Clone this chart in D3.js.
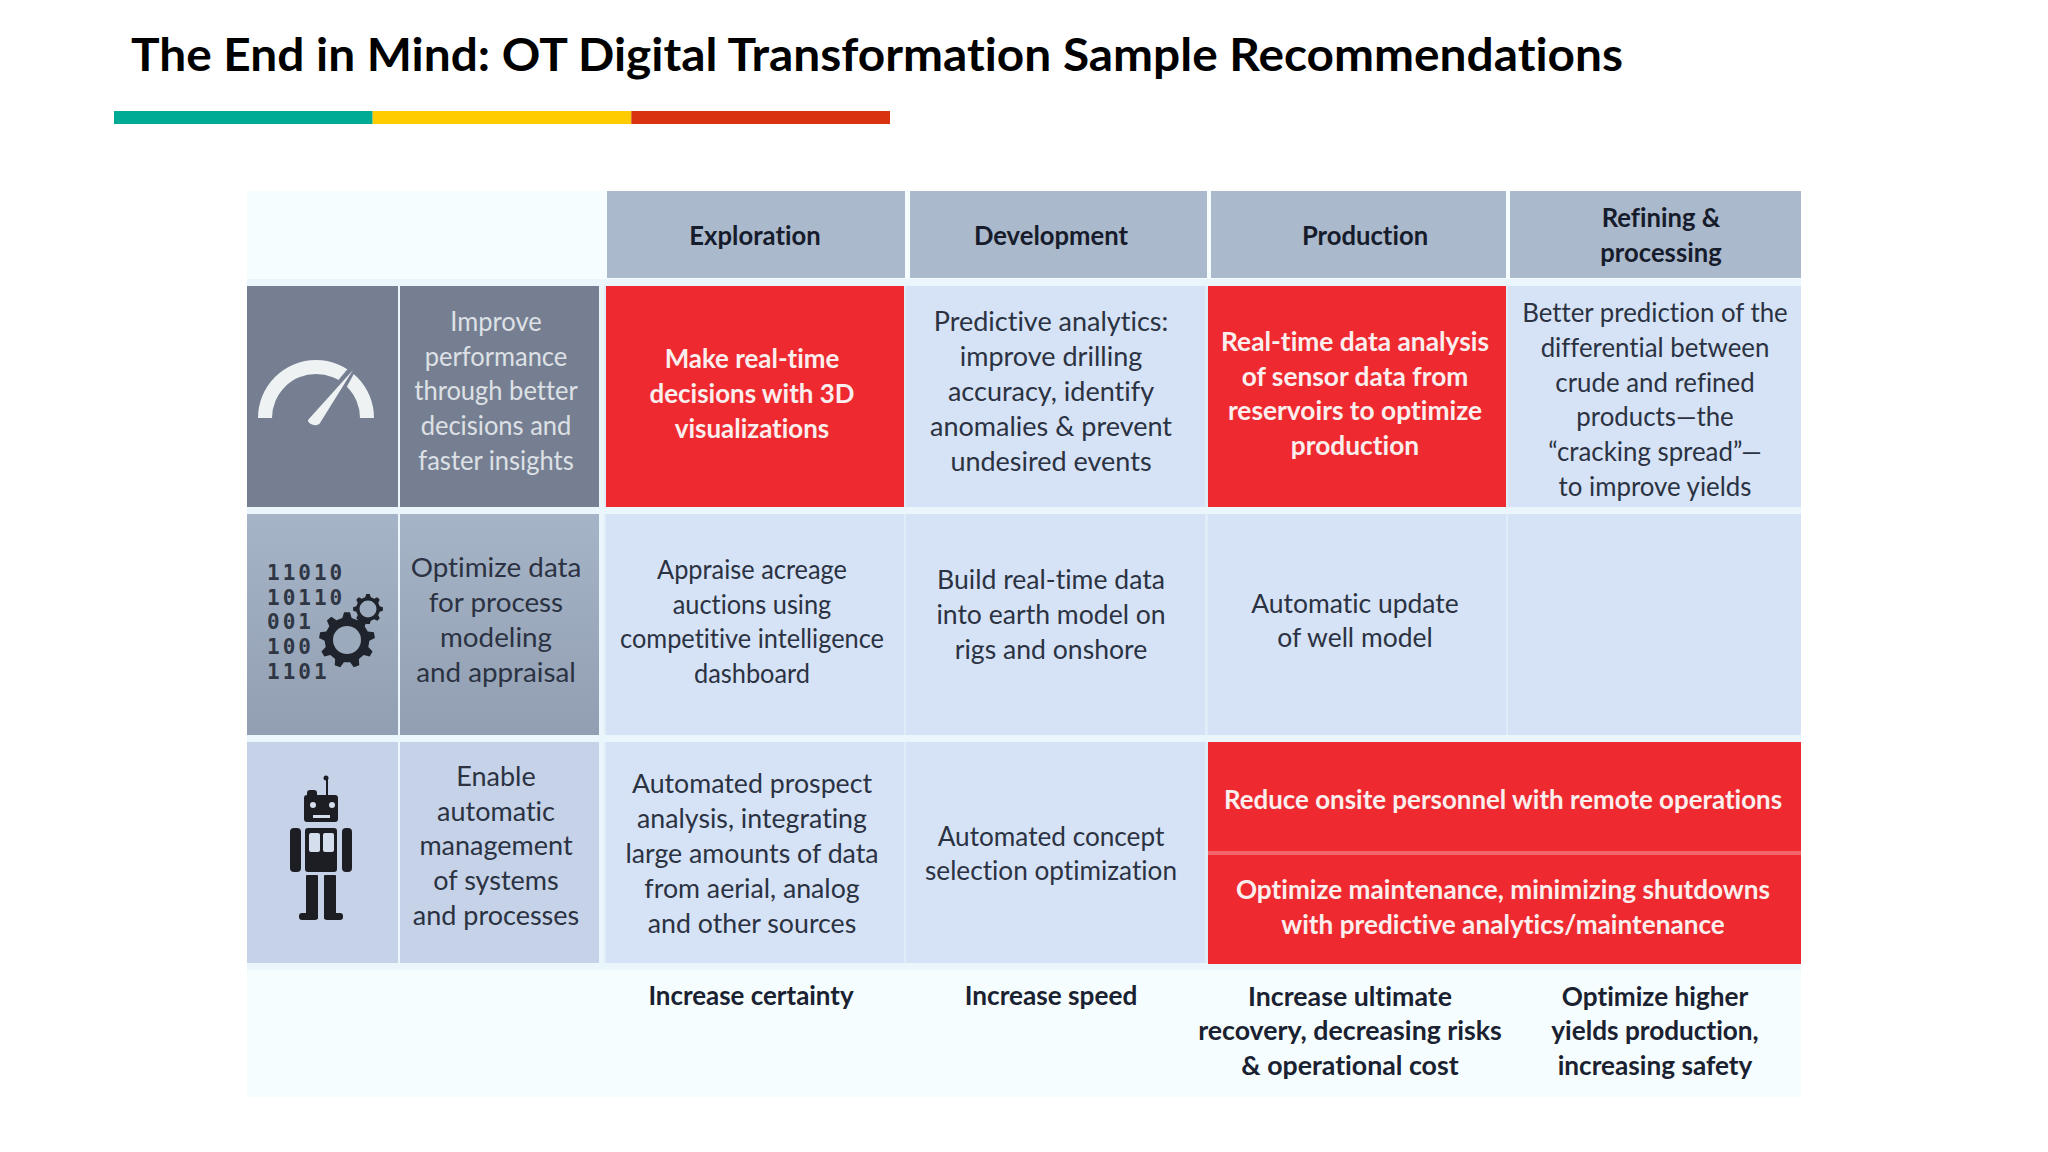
<!DOCTYPE html>
<html>
<head>
<meta charset="utf-8">
<script src="https://cdnjs.cloudflare.com/ajax/libs/d3/7.8.5/d3.min.js"></script>
<style>
  html, body { margin: 0; padding: 0; background: #fff; }
  svg { display: block; }
  text { font-family: Lato, "Open Sans", sans-serif; text-anchor: middle; font-variant-ligatures: none; }
</style>
</head>
<body>
<div id="chart"></div>
<script>
const title = "The End in Mind: OT Digital Transformation Sample Recommendations";

const stages = ["Exploration", "Development", "Production", "Refining &\nprocessing"];
const goals = [
  "Improve\nperformance\nthrough better\ndecisions and\nfaster insights",
  "Optimize data\nfor process\nmodeling\nand appraisal",
  "Enable\nautomatic\nmanagement\nof systems\nand processes",
];
const row1 = [
  "Make real-time\ndecisions with 3D\nvisualizations",
  "Predictive analytics:\nimprove drilling\naccuracy, identify\nanomalies & prevent\nundesired events",
  "Real-time data analysis\nof sensor data from\nreservoirs to optimize\nproduction",
  "Better prediction of the\ndifferential between\ncrude and refined\nproducts\u2014the\n\u201ccracking spread\u201d\u2014\nto improve yields",
];
const row2 = [
  "Appraise acreage\nauctions using\ncompetitive intelligence\ndashboard",
  "Build real-time data\ninto earth model on\nrigs and onshore",
  "Automatic update\nof well model",
  "",
];
const row3 = [
  "Automated prospect\nanalysis, integrating\nlarge amounts of data\nfrom aerial, analog\nand other sources",
  "Automated concept\nselection optimization",
];
const row3Merged = [
  "Reduce onsite personnel with remote operations",
  "Optimize maintenance, minimizing shutdowns\nwith predictive analytics/maintenance",
];
const outcomes = [
  "Increase certainty",
  "Increase speed",
  "Increase ultimate\nrecovery, decreasing risks\n& operational cost",
  "Optimize higher\nyields production,\nincreasing safety",
];
const highlighted = ["0-0", "0-2"];
const binaryDigits = ["11010", "10110", "001", "100", "1101"];
const barColors = ["#00ab96", "#ffcc00", "#d83210"];

const W = 2048, H = 1152;
const svg = d3.select("#chart").append("svg").attr("width", W).attr("height", H);
const defs = svg.append("defs");
const grad = defs.append("linearGradient").attr("id", "rowGrad").attr("x2", 0).attr("y2", 1);
grad.append("stop").attr("offset", 0).attr("stop-color", "#a6b4c7");
grad.append("stop").attr("offset", 1).attr("stop-color", "#929fb2");

// title and the three colour bar
svg.append("text").attr("x", 131).attr("y", 71)
  .attr("textLength", 1492).attr("lengthAdjust", "spacingAndGlyphs")
  .style("text-anchor", "start").style("font-size", "46px").style("font-weight", 700)
  .attr("fill", "#000").text(title);

const barX = d3.scaleBand().domain(barColors).range([114, 890]);
svg.selectAll(".bar").data(barColors).enter().append("rect")
  .attr("x", (d) => barX(d)).attr("y", 111).attr("width", barX.bandwidth()).attr("height", 13)
  .attr("fill", (d) => d);

// table frame
const colLeft = d3.scaleOrdinal().domain(d3.range(4)).range([606, 906, 1208, 1508]);
const colRight = d3.scaleOrdinal().domain(d3.range(4)).range([904, 1205, 1506, 1801]);
const rowTop = d3.scaleOrdinal().domain(d3.range(3)).range([286, 514, 742]);
const rowBottom = d3.scaleOrdinal().domain(d3.range(3)).range([507, 735, 963]);
const textX = d3.scaleOrdinal().domain(d3.range(4)).range([752, 1051, 1355, 1655]);

svg.append("rect").attr("x", 247).attr("y", 191).attr("width", 1554).attr("height", 906).attr("fill", "#f5fdfe");
svg.append("rect").attr("x", 247).attr("y", 279).attr("width", 1554).attr("height", 691).attr("fill", "#eaf6fb");
svg.append("rect").attr("x", 247).attr("y", 191).attr("width", 357).attr("height", 88).attr("fill", "#f5fdfe");
[0, 1, 2].forEach((r) => {
  svg.append("rect").attr("x", 604).attr("y", rowTop(r)).attr("width", 1197)
    .attr("height", rowBottom(r) - rowTop(r)).attr("fill", "#e1ecf9");
});

function block(str, x, y, size, color, weight, squeeze) {
  const lines = str.split("\n");
  const lh = 34.9;
  const g = svg.append("g").attr("transform", "translate(" + x + "," + y + ") scale(" + squeeze + ",1)");
  g.selectAll("text").data(lines).enter().append("text")
    .attr("y", (d, i) => (i - (lines.length - 1) / 2) * lh)
    .attr("dy", "0.35em")
    .attr("fill", color)
    .style("font-size", size + "px")
    .style("font-weight", weight)
    .text((d) => d);
}

const BODY = 27, DARK = "#2b3242";

// header row
stages.forEach((s, i) => {
  svg.append("rect").attr("x", [607, 910, 1211, 1510][i]).attr("y", 191)
    .attr("width", [298, 297, 295, 291][i]).attr("height", 87).attr("fill", "#abb9cc");
  block(s, [755, 1051, 1365, 1661][i], 236 - (i === 3 ? 1 : 0), BODY, "#161c2b", 700, 0.95);
});

// left two columns of each row
const rowFill = ["#767f91", "url(#rowGrad)", "#c5d2e7"];
const goalColor = ["#dde1e6", DARK, DARK];
const goalSqueeze = [0.945, 1.03, 1.0];
goals.forEach((g, r) => {
  svg.append("rect").attr("x", 247).attr("y", rowTop(r)).attr("width", 151)
    .attr("height", rowBottom(r) - rowTop(r)).attr("fill", rowFill[r]);
  svg.append("rect").attr("x", 400).attr("y", rowTop(r)).attr("width", 199)
    .attr("height", rowBottom(r) - rowTop(r)).attr("fill", rowFill[r]);
  block(g, 496, [391, 620, 846][r], BODY, goalColor[r], 400, goalSqueeze[r]);
});

// body cells
const nudgeY = [[-3, -5, -3, 3], [-3, -10, -4, 0], [1, 1]];
const cellSqueeze = [[0.96, 1.0, 0.975, 0.957], [0.94, 0.985, 0.98, 1], [0.99, 0.97]];
[row1, row2, row3].forEach((row, r) => {
  row.forEach((t, c) => {
    const hot = highlighted.includes(r + "-" + c);
    svg.append("rect").attr("x", colLeft(c)).attr("y", rowTop(r))
      .attr("width", colRight(c) - colLeft(c)).attr("height", rowBottom(r) - rowTop(r))
      .attr("fill", hot ? "#ee2a30" : "#d6e3f6");
    if (t) block(t, textX(c), (rowTop(r) + rowBottom(r)) / 2 + nudgeY[r][c], BODY,
      hot ? "#fbeeee" : DARK, hot ? 700 : 400, cellSqueeze[r][c]);
  });
});

// merged red cells in the third row
svg.append("rect").attr("x", 1208).attr("y", 742).attr("width", 593).attr("height", 222).attr("fill", "#ee2a30");
svg.append("rect").attr("x", 1208).attr("y", 851).attr("width", 593).attr("height", 4).attr("fill", "#f5666b");
block(row3Merged[0], 1503, 800, BODY, "#fbeeee", 700, 0.96);
block(row3Merged[1], 1503, 907, BODY, "#fbeeee", 700, 0.97);

// bottom outcomes
const outcomeSqueeze = [0.96, 0.97, 0.99, 0.97];
outcomes.forEach((t, c) => {
  const n = t.split("\n").length;
  block(t, [751, 1051, 1350, 1655][c], 996 + (n - 1) * 17.5, BODY, "#1a2130", 700, outcomeSqueeze[c]);
});

// gauge icon
const gauge = svg.append("g").attr("transform", "translate(316,418)");
gauge.append("path").attr("fill", "#eef2f3")
  .attr("d", d3.arc().innerRadius(44).outerRadius(58).startAngle(-Math.PI / 2).endAngle(Math.PI / 2)());
gauge.append("path").attr("d", "M-9,5 L6,7 L37,-50 Z").attr("fill", "#767f91").attr("stroke", "#767f91").attr("stroke-width", 7);
gauge.append("path").attr("d", "M-8,2 C-8,7 2,9 4,5 L37,-48 Z").attr("fill", "#eef2f3");

// binary and gears icon
svg.append("g").selectAll("text").data(binaryDigits).enter().append("text")
  .attr("x", 267).attr("y", (d, i) => 580 + i * 24.7)
  .style("text-anchor", "start").style("font-family", "'DejaVu Sans Mono'")
  .style("letter-spacing", "3px")
  .style("font-size", "21px").style("font-weight", 700).attr("fill", "#2f3644").text((d) => d);

function gear(cx, cy, r, hole, teeth) {
  const pts = [];
  for (let i = 0; i < teeth; i++) {
    const a = (i / teeth) * 2 * Math.PI, s = (2 * Math.PI) / teeth;
    pts.push([a - s * 0.3, r * 0.8], [a - s * 0.15, r], [a + s * 0.15, r], [a + s * 0.3, r * 0.8]);
  }
  svg.append("path").attr("transform", "translate(" + cx + "," + cy + ")")
    .attr("d", d3.lineRadial().curve(d3.curveLinearClosed)(pts)).attr("fill", "#1f232c");
  svg.append("circle").attr("cx", cx).attr("cy", cy).attr("r", hole).attr("fill", "#9baabc");
}
gear(347, 640, 28, 14, 9);
gear(368, 609, 15, 8.5, 8);

// robot icon
const ink = "#1c1e24";
const robot = svg.append("g");
const robotParts = [
  [326, 778, 2, 18, 1], [304, 795, 34, 27, 3], [307, 790, 10, 8, 3],
  [305, 828, 32, 44, 3], [290, 828, 11, 44, 4], [342, 828, 10, 44, 4],
  [306, 875, 12, 44, 1], [324, 875, 12, 44, 1], [299, 913, 19, 7, 3], [324, 913, 19, 7, 3],
];
robot.selectAll("rect").data(robotParts).enter().append("rect")
  .attr("x", (d) => d[0]).attr("y", (d) => d[1]).attr("width", (d) => d[2]).attr("height", (d) => d[3])
  .attr("rx", (d) => d[4]).attr("fill", ink);
robot.append("circle").attr("cx", 326).attr("cy", 778).attr("r", 2.5).attr("fill", ink);
[[313, 805], [332, 805]].forEach((p) => robot.append("circle").attr("cx", p[0]).attr("cy", p[1]).attr("r", 3).attr("fill", "#d5deec"));
robot.append("rect").attr("x", 313).attr("y", 815).attr("width", 17).attr("height", 3).attr("fill", "#d5deec");
[[309, 833], [323, 833]].forEach((p) => robot.append("rect").attr("x", p[0]).attr("y", p[1]).attr("width", 11).attr("height", 19).attr("rx", 2).attr("fill", "#d5deec"));
</script>
</body>
</html>
